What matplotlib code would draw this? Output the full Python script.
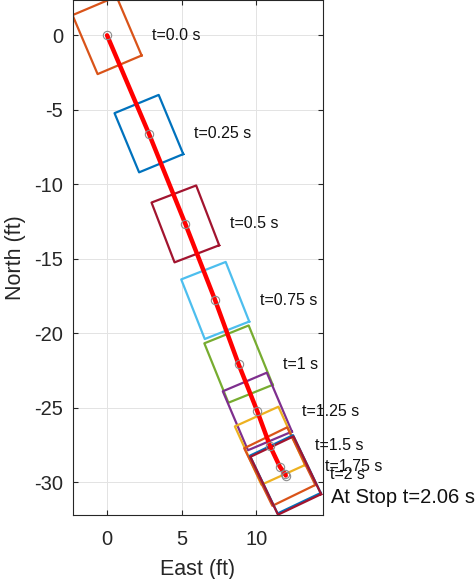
import numpy as np
import matplotlib
matplotlib.use("Agg")
import matplotlib.pyplot as plt

plt.rcParams['font.family'] = ['Liberation Sans', 'DejaVu Sans']

# Vehicle states sampled along the stopping manoeuvre
times = [0.0, 0.25, 0.5, 0.75, 1.0, 1.25, 1.5, 1.75, 2.0, 2.06]
east_ft = [0.0, 2.8, 5.24, 7.24, 8.8, 10.06, 10.9, 11.56, 11.93, 11.96]
north_ft = [0.0, -6.6, -12.66, -17.8, -22.07, -25.25, -27.55, -28.95, -29.47, -29.55]
# body axis angle, measured from south toward east (deg)
yaw_deg = [23.0, 22.5, 21.0, 21.5, 22.0, 23.0, 24.4, 26.0, 25.5, 25.5]
labels = ["t=0.0 s", "t=0.25 s", "t=0.5 s", "t=0.75 s", "t=1 s", "t=1.25 s",
          "t=1.5 s", "t=1.75 s", "t=2 s", "At Stop t=2.06 s"]

box_length = 4.3
box_width = 3.2

colors = ['#D95319', '#0072BD', '#A2142F', '#4DBEEE', '#77AC30', '#7E2F8E',
          '#EDB120', '#D95319', '#0072BD', '#A2142F']

fig = plt.figure(figsize=(4.76, 5.79), dpi=100)
ax = fig.add_axes([73 / 476, 1 - 515 / 579, (322.5 - 73) / 476, 515 / 579])

# footprint of the vehicle at each sample time
for e, n, yaw, c in zip(east_ft, north_ft, yaw_deg, colors):
    a = np.deg2rad(yaw)
    fwd = np.array([np.sin(a), -np.cos(a)])
    side = np.array([np.cos(a), np.sin(a)])
    ctr = np.array([e, n])
    hl, hw = box_length / 2, box_width / 2
    pts = [ctr + hl * fwd + hw * side, ctr + hl * fwd - hw * side,
           ctr - hl * fwd - hw * side, ctr - hl * fwd + hw * side]
    pts.append(pts[0])
    pts = np.array(pts)
    ax.plot(pts[:, 0], pts[:, 1], color=c, lw=1.6, zorder=2)

# travelled path and sample markers
ax.plot(east_ft, north_ft, color='#FF0000', lw=3.2, zorder=3, solid_capstyle='round')
ax.plot(east_ft, north_ft, 'o', ms=6, mfc='none', mec='#8C8C8C', mew=0.8, zorder=4)

for i, (e, n, lab) in enumerate(zip(east_ft, north_ft, labels)):
    if i == len(labels) - 1:
        ax.text(e + 3.0, n - 1.5, lab, fontsize=14.5, ha='left', va='center',
                color='#111111', clip_on=False, zorder=6)
    else:
        ax.text(e + 3.0, n, lab, fontsize=11.5, ha='left', va='center',
                color='#111111', clip_on=False, zorder=6)

ax.set_xlim(-2.28, 14.42)
ax.set_ylim(-32.2, 2.37)
ax.set_xticks([0, 5, 10])
ax.set_yticks([0, -5, -10, -15, -20, -25, -30])
ax.set_yticklabels(['0', '-5', '-10', '-15', '-20', '-25', '-30'])
ax.grid(True, color='#E3E3E3', lw=0.7)
ax.set_axisbelow(True)
ax.tick_params(direction='in', length=3.6, width=0.8, colors='#262626',
               labelsize=14.5, top=True, right=True)
ax.tick_params(axis='x', pad=11)
ax.tick_params(axis='y', pad=7)
for sp in ax.spines.values():
    sp.set_color('#262626')
    sp.set_linewidth(0.8)

ax.set_xlabel('East (ft)', fontsize=15.5, color='#262626', labelpad=7)
ax.set_ylabel('North (ft)', fontsize=15.5, color='#262626', labelpad=6)

fig.savefig('out.png', dpi=100)
